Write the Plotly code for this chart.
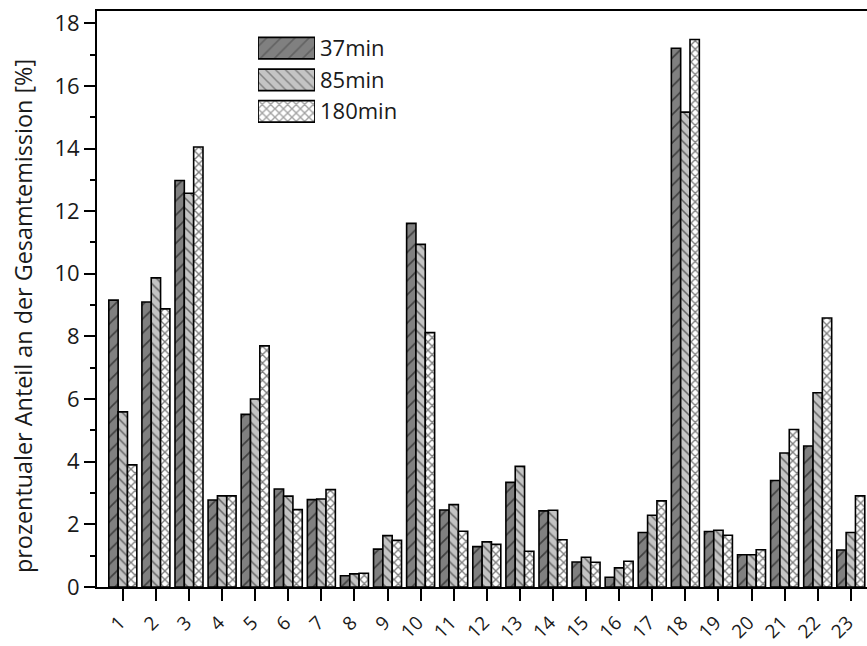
import plotly.graph_objects as go

# Sample numbers (x axis) and share of total emission in percent per sampling time
samples = [str(i) for i in range(1, 24)]
series_names = ["37min", "85min", "180min"]

share_37 = [9.16, 9.10, 12.98, 2.78, 5.51, 3.13, 2.79, 0.36, 1.21, 11.61, 2.46, 1.29,
            3.34, 2.43, 0.80, 0.31, 1.74, 17.20, 1.77, 1.03, 3.40, 4.50, 1.18]
share_85 = [5.59, 9.87, 12.57, 2.91, 6.00, 2.90, 2.81, 0.42, 1.64, 10.94, 2.63, 1.44,
            3.85, 2.45, 0.95, 0.61, 2.29, 15.16, 1.81, 1.03, 4.28, 6.20, 1.74]
share_180 = [3.90, 8.88, 14.05, 2.91, 7.70, 2.47, 3.11, 0.44, 1.49, 8.12, 1.78, 1.36,
             1.14, 1.51, 0.79, 0.82, 2.75, 17.48, 1.65, 1.19, 5.03, 8.59, 2.91]

y_ticks = [0, 2, 4, 6, 8, 10, 12, 14, 16, 18]

FONT = "Open Sans"
TEXT = "#1a1a1a"
styles = [
    dict(color="#808080", shape="/", size=10, solidity=0.16),
    dict(color="#c4c4c4", shape="\\", size=7, solidity=0.22),
    dict(color="#ffffff", shape="x", size=6, solidity=0.4),
]

fig = go.Figure()

for name, vals, st in zip(series_names, [share_37, share_85, share_180], styles):
    fig.add_trace(go.Bar(
        x=[int(s) for s in samples], y=vals, name=name, showlegend=False,
        marker=dict(color=st["color"],
                    line=dict(color="black", width=1.6),
                    pattern=dict(shape=st["shape"], fgcolor="black",
                                 size=st["size"], solidity=st["solidity"])),
        hoverinfo="skip",
    ))

# Legend drawn as a small inset of horizontal swatches with the series names
fig.add_trace(go.Bar(
    x=[1] * len(series_names), y=series_names, orientation="h", width=0.68,
    xaxis="x2", yaxis="y2", showlegend=False, hoverinfo="skip",
    marker=dict(color=[s["color"] for s in styles],
                line=dict(color="black", width=1.8),
                pattern=dict(shape=[s["shape"] for s in styles], fgcolor="black",
                             size=[s["size"] for s in styles],
                             solidity=[s["solidity"] for s in styles])),
))

W, H = 867, 646
ml, mr, mt, mb = 97, 0, 11, 59

fig.update_layout(
    width=W, height=H,
    margin=dict(l=ml, r=mr, t=mt, b=mb, pad=0, autoexpand=False),
    paper_bgcolor="white", plot_bgcolor="white",
    barmode="group", bargap=0.154, bargroupgap=0,
    font=dict(family=FONT, size=22, color=TEXT),
    xaxis=dict(
        range=[0.22, 23.49], tickmode="array",
        tickvals=[int(s) for s in samples], ticktext=samples,
        tickangle=-45, ticks="outside", ticklen=12, tickwidth=2, tickcolor="black",
        ticklabelstandoff=3, ticklabelshift=-3, automargin=False,
        showline=True, linewidth=2, linecolor="black", mirror=True,
        showgrid=False, zeroline=False,
        tickfont=dict(family=FONT, size=19, color=TEXT),
    ),
    yaxis=dict(
        range=[0, 18.39], tickmode="array", tickvals=y_ticks,
        ticks="outside", ticklen=11, tickwidth=2, tickcolor="black",
        minor=dict(dtick=1, ticks="outside", ticklen=5, tickwidth=2, tickcolor="black"),
        showline=True, linewidth=2, linecolor="black", mirror=False,
        showgrid=False, zeroline=False, automargin=False,
        tickfont=dict(family=FONT, size=22, color=TEXT),
    ),
    xaxis2=dict(domain=[(258 - ml) / 770, (315 - ml) / 770], range=[0, 1],
                visible=False, anchor="y2", fixedrange=True),
    yaxis2=dict(domain=[(587 - 127.2) / 576, (587 - 32.4) / 576], anchor="x2",
                type="category", autorange="reversed", side="right",
                showgrid=False, zeroline=False, showline=False, ticks="",
                ticklabelstandoff=4, automargin=False,
                tickfont=dict(family=FONT, size=22, color=TEXT),
                fixedrange=True),
    annotations=[dict(
        text="prozentualer Anteil an der Gesamtemission [%]",
        textangle=-90, xref="paper", yref="paper",
        x=(23 - ml) / 770, y=(587 - 316) / 576,
        xanchor="center", yanchor="middle", showarrow=False,
        font=dict(family=FONT, size=23.4, color=TEXT),
    )],
)

fig.write_html("out.html")
